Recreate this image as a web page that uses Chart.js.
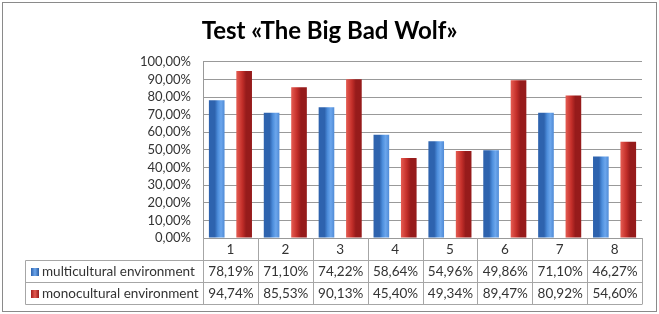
<!DOCTYPE html>
<html>
<head>
<meta charset="utf-8">
<script src="https://cdn.jsdelivr.net/npm/chart.js@4.4.1/dist/chart.umd.min.js"></script>
<style>
html,body{margin:0;padding:0;background:#fff;}
#wrap{width:659px;height:314px;position:relative;}
</style>
</head>
<body>
<div id="wrap"><canvas id="c" width="659" height="314"></canvas></div>
<script>
const titleText = 'Test «The Big Bad Wolf»';
const categories = ['1', '2', '3', '4', '5', '6', '7', '8'];
const seriesNames = ['multicultural environment', 'monocultural environment'];
const multicultural = [78.19, 71.10, 74.22, 58.64, 54.96, 49.86, 71.10, 46.27];
const monocultural = [94.74, 85.53, 90.13, 45.40, 49.34, 89.47, 80.92, 54.60];
const yTicks = [0, 10, 20, 30, 40, 50, 60, 70, 80, 90, 100];

const BAR_PCT = 0.57;
const FONT = 'Lato, "Open Sans", sans-serif';
const blueStops = ['#2e63ae', '#4d8edc', '#6ca6ec', '#3f7bca', '#2c5ea3'];
const redStops = ['#a31e1e', '#d03a33', '#e35a50', '#c42f2a', '#961b1b'];

function fmt(v) { return v.toFixed(2).replace('.', ',') + '%'; }

function barGradient(ctx, stops, dsIndex) {
  const chart = ctx.chart;
  const xs = chart.scales && chart.scales.x;
  if (!xs || !isFinite(xs.width) || xs.width <= 0 || ctx.dataIndex === undefined) return stops[2];
  const c = xs.getPixelForValue(ctx.dataIndex);
  const cw = xs.width / categories.length;
  const w = cw * BAR_PCT / 2;
  const left = dsIndex === 0 ? c - w : c;
  const g = chart.ctx.createLinearGradient(left, 0, left + w, 0);
  g.addColorStop(0, stops[0]);
  g.addColorStop(0.2, stops[1]);
  g.addColorStop(0.4, stops[2]);
  g.addColorStop(0.75, stops[3]);
  g.addColorStop(1, stops[4]);
  return g;
}

const framePlugin = {
  id: 'frame',
  beforeDraw(chart) {
    const ctx = chart.ctx;
    ctx.save();
    ctx.fillStyle = '#ffffff';
    ctx.fillRect(0, 0, chart.width, chart.height);
    ctx.strokeStyle = '#8a8a8a';
    ctx.lineWidth = 1;
    ctx.strokeRect(2.5, 2.5, chart.width - 5, chart.height - 5);
    ctx.restore();
  }
};

const tablePlugin = {
  id: 'dataTable',
  afterDraw(chart) {
    const ctx = chart.ctx;
    const xs = chart.scales.x;
    const area = chart.chartArea;
    const n = categories.length;
    const cw = xs.width / n;
    const top = area.bottom;
    const r1 = top + 22, r2 = top + 44, r3 = top + 66;
    const tableLeft = 25.5;
    ctx.save();
    ctx.strokeStyle = '#a6a6a6';
    ctx.lineWidth = 1;
    ctx.beginPath();
    for (let i = 0; i <= n; i++) {
      const x = Math.round(xs.left + i * cw) + 0.5;
      ctx.moveTo(x, top);
      ctx.lineTo(x, r3);
    }
    [r1, r2, r3].forEach(y => {
      ctx.moveTo(tableLeft, Math.round(y) + 0.5);
      ctx.lineTo(Math.round(xs.right) + 0.5, Math.round(y) + 0.5);
    });
    ctx.moveTo(tableLeft, r1 + 0.5);
    ctx.lineTo(tableLeft, r3 + 0.5);
    ctx.stroke();

    ctx.font = '13.5px ' + FONT;
    ctx.fillStyle = '#333333';
    ctx.textBaseline = 'middle';
    const rows = [multicultural, monocultural];
    const stops = [blueStops, redStops];
    const ys = [(r1 + r2) / 2 + 0.5, (r2 + r3) / 2 + 0.5];
    rows.forEach((vals, ri) => {
      const y = ys[ri];
      const g = ctx.createLinearGradient(31, 0, 39, 0);
      g.addColorStop(0, stops[ri][0]);
      g.addColorStop(0.5, stops[ri][2]);
      g.addColorStop(1, stops[ri][4]);
      ctx.fillStyle = g;
      ctx.fillRect(31, Math.round(y) - 4, 8, 8);
      ctx.fillStyle = '#333333';
      ctx.textAlign = 'left';
      ctx.fillText(seriesNames[ri], 42, y);
      ctx.textAlign = 'center';
      vals.forEach((v, i) => {
        ctx.fillText(fmt(v), xs.getPixelForValue(i) + 0.5, y);
      });
    });
    ctx.restore();
  }
};

new Chart(document.getElementById('c'), {
  type: 'bar',
  data: {
    labels: categories,
    datasets: [
      {
        label: seriesNames[0],
        data: multicultural,
        backgroundColor: (ctx) => barGradient(ctx, blueStops, 0),
        borderWidth: 0
      },
      {
        label: seriesNames[1],
        data: monocultural,
        backgroundColor: (ctx) => barGradient(ctx, redStops, 1),
        borderWidth: 0
      }
    ]
  },
  options: {
    responsive: false,
    animation: false,
    devicePixelRatio: 1,
    categoryPercentage: 1.0,
    barPercentage: BAR_PCT,
    layout: { padding: { left: 17, right: 17, top: 0, bottom: 0 } },
    plugins: {
      legend: { display: false },
      tooltip: { enabled: false },
      title: {
        display: true,
        text: titleText,
        color: '#000000',
        font: { family: FONT, size: 24, weight: 'bold', lineHeight: 1.2 },
        padding: { top: 17, bottom: 16 }
      }
    },
    scales: {
      x: {
        grid: { display: false, drawTicks: false },
        border: { display: true, color: '#999999' },
        ticks: { color: '#333333', font: { family: FONT, size: 13.5 }, padding: 4, maxRotation: 0 },
        afterFit(scale) { scale.height = 76; }
      },
      y: {
        min: 0,
        max: 100,
        afterBuildTicks(scale) { scale.ticks = yTicks.map(v => ({ value: v })); },
        grid: { color: '#999999', drawTicks: false },
        border: { display: true, color: '#999999' },
        ticks: {
          color: '#333333',
          font: { family: FONT, size: 13 },
          padding: 12,
          autoSkip: false,
          callback: (v) => fmt(v)
        },
        afterFit(scale) { scale.width = 186; }
      }
    }
  },
  plugins: [framePlugin, tablePlugin]
});
</script>
</body>
</html>
